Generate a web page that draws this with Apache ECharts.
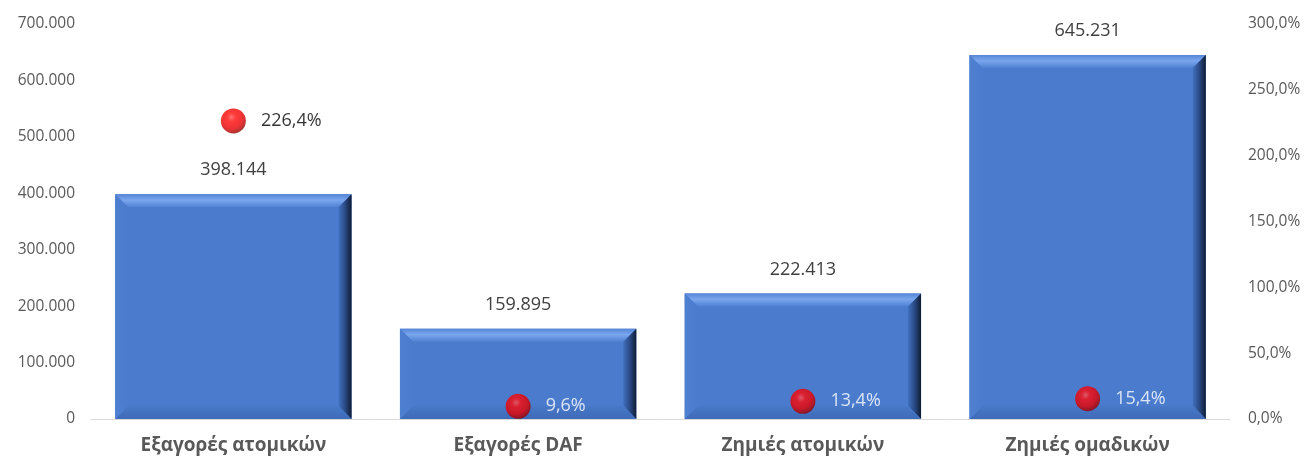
<!DOCTYPE html>
<html lang="el">
<head>
    <meta charset="UTF-8">
    <title>Εξαγορές και ζημιές</title>
    <script src="https://cdn.jsdelivr.net/npm/echarts@6/dist/echarts.min.js"></script>
    <style>
        *{ margin: 0; padding: 0; }
        html, body{ background: #fff; }
        #main{ width: 1306px; height: 459px; }
    </style>
</head>
<body>
<div id="main"></div>
<script type="text/javascript">
    // δεδομένα
    let categories = ['Εξαγορές ατομικών', 'Εξαγορές DAF', 'Ζημιές ατομικών', 'Ζημιές ομαδικών'];
    let amounts = [398144, 159895, 222413, 645231];
    let ratios = [226.4, 9.6, 13.4, 15.4];
    let ratioLabelColors = ['#000000', '#ffffff', '#ffffff', '#ffffff'];

    let font = '"Open Sans", sans-serif';

    function fmtThousands(v){
        return String(Math.round(v)).replace(/\B(?=(\d{3})+(?!\d))/g, '.');
    }
    function fmtPct(v, d){
        return v.toFixed(d).replace('.', ',') + '%';
    }

    let myChart = echarts.init(document.getElementById('main'));

    // ανάγλυφη στήλη (bevel)
    function renderBar(params, api){
        let idx = api.value(0), v = api.value(1);
        let top = api.coord([idx, v]);
        let base = api.coord([idx, 0]);
        let w = api.size([1, 0])[0] * 0.83;
        let x0 = top[0] - w / 2, x1 = top[0] + w / 2;
        let y0 = top[1], y1 = base[1];
        let b = 13;
        return {
            type: 'group',
            children: [
                {type: 'rect', shape: {x: x0, y: y0, width: w, height: y1 - y0}, style: {fill: '#4a7bcd'}},
                {type: 'polygon', shape: {points: [[x0, y0], [x1, y0], [x1 - b, y0 + b], [x0 + b, y0 + b]]},
                    style: {fill: new echarts.graphic.LinearGradient(0, 0, 0, 1, [
                        {offset: 0, color: '#5585d6'},
                        {offset: 0.45, color: '#7aa6ee'},
                        {offset: 1, color: '#4f80d2'}
                    ])}},
                {type: 'polygon', shape: {points: [[x1, y0], [x1, y1], [x1 - b, y1 - b], [x1 - b, y0 + b]]},
                    style: {fill: new echarts.graphic.LinearGradient(0, 0, 1, 0, [
                        {offset: 0, color: '#4170be'},
                        {offset: 0.5, color: '#2a4a85'},
                        {offset: 1, color: '#0f1c34'}
                    ])}},
                {type: 'polygon', shape: {points: [[x0, y1], [x1, y1], [x1 - b, y1 - b], [x0 + b, y1 - b]]},
                    style: {fill: new echarts.graphic.LinearGradient(0, 0, 0, 1, [
                        {offset: 0, color: '#4878c8'},
                        {offset: 1, color: '#3e6bb8'}
                    ])}},
                {type: 'polygon', shape: {points: [[x0, y0], [x0 + b, y0 + b], [x0 + b, y1 - b], [x0, y1]]},
                    style: {fill: new echarts.graphic.LinearGradient(0, 0, 1, 0, [
                        {offset: 0, color: '#4f80d0'},
                        {offset: 1, color: '#4a7bcd'}
                    ])}},
                {type: 'text', x: top[0], y: y0 - 24,
                    style: {text: fmtThousands(v), fill: '#404040', font: '18px ' + font,
                        align: 'center', verticalAlign: 'middle'}}
            ]
        };
    }

    let option = {
        animation: false,
        grid: {left: 91, right: 76, top: 24, bottom: 40},
        xAxis: {
            type: 'category',
            data: categories,
            axisTick: {show: false},
            axisLine: {lineStyle: {color: '#d9d9d9', width: 1}},
            axisLabel: {color: '#595959', fontFamily: font, fontSize: 19, fontWeight: 'bold', margin: 17}
        },
        yAxis: [
            {
                type: 'value', min: 0, max: 700000, interval: 100000,
                splitLine: {show: false},
                axisLabel: {color: '#595959', fontFamily: font, fontSize: 15.5, margin: 16,
                    formatter: v => fmtThousands(v)}
            },
            {
                type: 'value', min: 0, max: 300, interval: 50,
                splitLine: {show: false},
                axisLabel: {color: '#595959', fontFamily: font, fontSize: 15.5, margin: 18,
                    formatter: v => fmtPct(v, 1)}
            }
        ],
        series: [
            {
                type: 'custom',
                renderItem: renderBar,
                data: amounts.map((v, i) => [i, v]),
                encode: {x: 0, y: 1}
            },
            {
                type: 'scatter',
                yAxisIndex: 1,
                symbol: 'circle',
                symbolSize: 25,
                z: 5,
                itemStyle: {
                    color: new echarts.graphic.RadialGradient(0.42, 0.35, 0.7, [
                        {offset: 0, color: '#ff5050'},
                        {offset: 0.25, color: '#ff0a0a'},
                        {offset: 0.65, color: '#e80000'},
                        {offset: 0.88, color: '#a80000'},
                        {offset: 1, color: '#6a0000'}
                    ])
                },
                data: ratios.map((v, i) => ({
                    value: [i, v],
                    label: {color: ratioLabelColors[i]}
                })),
                label: {
                    show: true, position: 'right', distance: 15,
                    fontFamily: font, fontSize: 18,
                    formatter: p => fmtPct(p.value[1], 1)
                }
            }
        ]
    };
    myChart.setOption(option);
</script>
</body>
</html>
